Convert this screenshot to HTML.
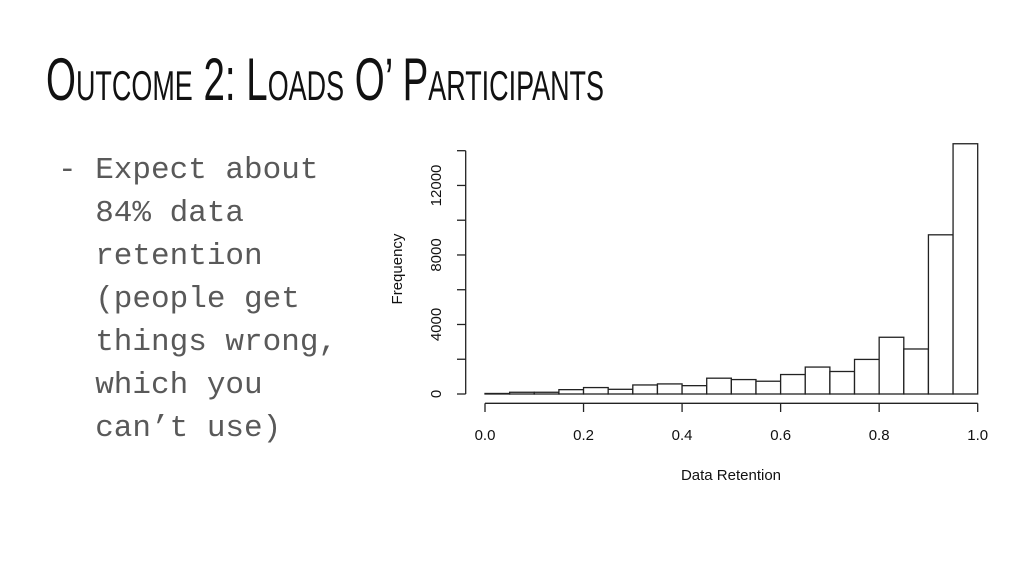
<!DOCTYPE html>
<html><head><meta charset="utf-8"><style>
html,body{margin:0;padding:0;background:#fff;}
body{width:1024px;height:576px;position:relative;overflow:hidden;}
#bullets{position:absolute;left:58px;top:149px;font-family:"Liberation Mono",monospace;font-size:31px;line-height:43px;color:#595959;margin:0;}
#bullets .ln{white-space:pre;}
</style></head><body>
<svg width="1024" height="130" style="position:absolute;left:0;top:0">
<text x="46" y="100" textLength="558" lengthAdjust="spacingAndGlyphs" font-family="Liberation Sans Narrow, Liberation Sans, sans-serif" font-size="60" style="font-variant:small-caps" fill="#111" transform="translate(0,0)">Outcome 2: Loads O’ Participants</text>
</svg>
<div id="bullets">
<div class="ln">- Expect about</div>
<div class="ln">  84% data</div>
<div class="ln">  retention</div>
<div class="ln">  (people get</div>
<div class="ln">  things wrong,</div>
<div class="ln">  which you</div>
<div class="ln">  can’t use)</div>
</div>
<svg id="chart" width="1024" height="576" style="position:absolute;left:0;top:0" font-family="Liberation Sans, sans-serif"></svg>
<script>
const binStarts=[0,0.05,0.1,0.15,0.2,0.25,0.3,0.35,0.4,0.45,0.5,0.55,0.6,0.65,0.7,0.75,0.8,0.85,0.9,0.95];
const counts=[30,100,100,250,370,270,520,580,480,910,830,735,1120,1550,1295,1990,3265,2590,9160,14400];
const xTicks=[0,0.2,0.4,0.6,0.8,1.0];
const xTickLabels=["0.0","0.2","0.4","0.6","0.8","1.0"];
const yTicks=[0,2000,4000,6000,8000,10000,12000,14000];
const yTickLabels=["0","","4000","","8000","","12000",""];
const binWidth=0.05;
const svg=document.getElementById('chart');
const NS='http://www.w3.org/2000/svg';
const X=v=>485+v*(977.7-485);
const Y=v=>394-v*(394-150.7)/14000;
function mk(t,a){const e=document.createElementNS(NS,t);for(const k in a)e.setAttribute(k,a[k]);svg.appendChild(e);return e;}
counts.forEach((c,i)=>{
 const r=mk('rect',{x:X(binStarts[i]),y:Y(c),width:X(binStarts[i]+binWidth)-X(binStarts[i]),height:Y(0)-Y(c),fill:'#fff',stroke:'#222','stroke-width':1.3});
 
 
});
const ya=mk('line',{x1:465.7,x2:465.7,y1:Y(0),y2:Y(14000),stroke:'#222','stroke-width':1.3});


yTicks.forEach((t,i)=>{
 mk('line',{x1:457,x2:465.7,y1:Y(t),y2:Y(t),stroke:'#222','stroke-width':1.3});
 if(yTickLabels[i]){
  const tx=mk('text',{x:0,y:0,'font-size':15,'text-anchor':'middle',fill:'#111',transform:`translate(441,${Y(t)}) rotate(-90)`});
  tx.textContent=yTickLabels[i];
  
  
 }
});
const xa=mk('line',{x1:X(0),x2:X(1),y1:403.3,y2:403.3,stroke:'#222','stroke-width':1.3});


xTicks.forEach((t,i)=>{
 mk('line',{x1:X(t),x2:X(t),y1:403.3,y2:412,stroke:'#222','stroke-width':1.3});
 const tx=mk('text',{x:X(t),y:440,'font-size':15,'text-anchor':'middle',fill:'#111'});
 tx.textContent=xTickLabels[i];
 
 
});
const xt=mk('text',{x:731,y:480,'font-size':15,'text-anchor':'middle',fill:'#111'});
xt.textContent='Data Retention';


const yt=mk('text',{x:0,y:0,'font-size':15,'text-anchor':'middle',fill:'#111',transform:'translate(402,269) rotate(-90)'});
yt.textContent='Frequency';


</script>
</body></html>
